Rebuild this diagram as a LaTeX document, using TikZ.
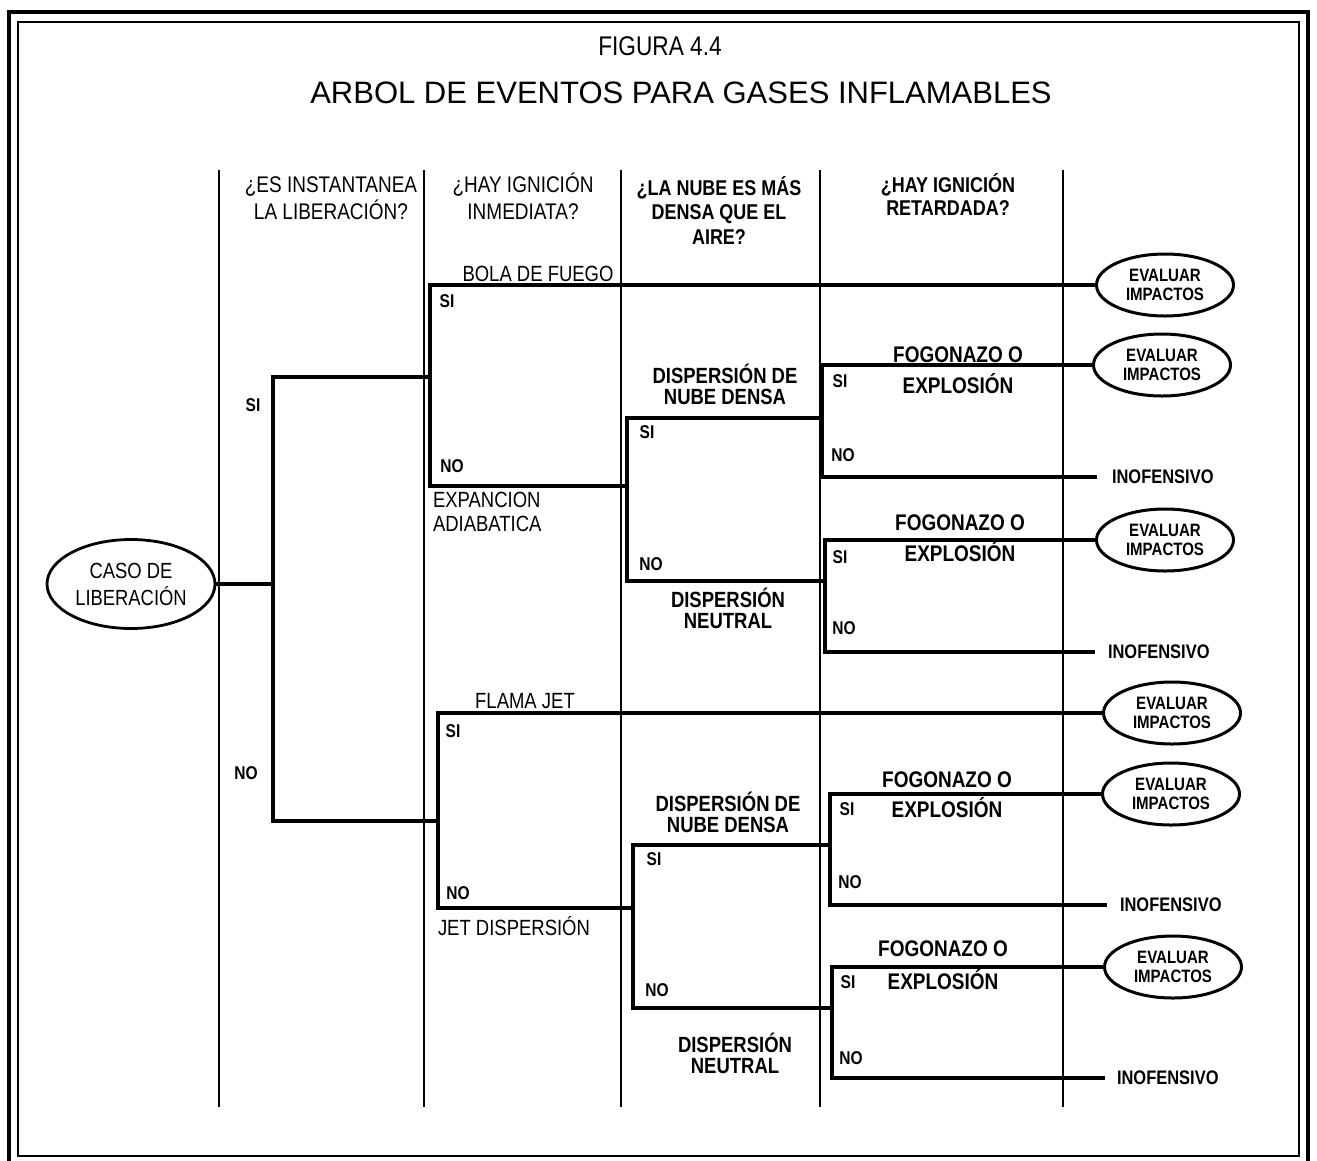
\documentclass[tikz,border=0pt]{standalone}
\usepackage{fontspec}
\setmainfont{Liberation Sans}
\newfontfamily\cond[FakeStretch=0.84]{Liberation Sans}
\usetikzlibrary{shapes.geometric}

\begin{document}
\begin{tikzpicture}[x=1pt,y=-1pt,
  every node/.style={inner sep=0pt, outer sep=0pt},
  treeline/.style={line width=3.3pt, line join=miter},
  colline/.style={line width=1.8pt},
  hdr/.style={font=\cond\fontsize{22.6}{27}\selectfont, align=center, anchor=base},
  hdrb/.style={font=\cond\bfseries\fontsize{21.4}{24.5}\selectfont, align=center, anchor=base},
  lbl/.style={font=\cond\fontsize{22}{24}\selectfont, anchor=base},
  yn/.style={font=\cond\bfseries\fontsize{18.5}{18}\selectfont, anchor=base},
  disp/.style={font=\cond\bfseries\fontsize{22}{20.5}\selectfont, align=center, anchor=base},
  fogo/.style={font=\cond\bfseries\fontsize{22.6}{31}\selectfont, align=center, anchor=base},
  inof/.style={font=\cond\bfseries\fontsize{19.6}{18}\selectfont, anchor=west},
  evalbox/.style={ellipse, draw, line width=3pt, minimum width=137pt,
    minimum height=62pt, align=center, font=\cond\bfseries\fontsize{17.9}{19}\selectfont},
  startbox/.style={ellipse, draw, line width=2.8pt, minimum width=168pt,
    minimum height=89pt, align=center, font=\cond\fontsize{21.9}{27}\selectfont},
]
\useasboundingbox (0,0) rectangle (1317,1160);

% double frame
\draw[line width=4.5pt] (9,1175) -- (9,12) -- (1308,12) -- (1308,1175);
\draw[line width=1.8pt] (18,22) rectangle (1299,1156);

% titles
\node[font=\cond\fontsize{27}{30}\selectfont, anchor=base] (fig) at (660,55) {FIGURA 4.4};
\node[font=\fontsize{31}{36}\selectfont, anchor=base] (title) at (681,103)
  {ARBOL DE EVENTOS PARA GASES INFLAMABLES};

% column separators
\foreach \cx in {219,424,621,820,1063}
  \draw[colline] (\cx,170) -- (\cx,1107);

% column questions (multi-line nodes sit on their last baseline)
\node[hdr] (h1) at (331,219) {¿ES INSTANTANEA\\LA LIBERACIÓN?};
\node[hdr] (h2) at (523,219) {¿HAY IGNICIÓN\\INMEDIATA?};
\node[hdrb] (h3) at (719,244) {¿LA NUBE ES MÁS\\DENSA QUE EL\\AIRE?};
\node[hdrb, font=\cond\bfseries\fontsize{21.4}{23}\selectfont] (h4) at (948,215.5)
  {¿HAY IGNICIÓN\\RETARDADA?};

% initiating event and outcomes
\node[startbox] (caso) at (131,584) {CASO DE\\LIBERACIÓN};
\node[evalbox] (E1) at (1165,285) {EVALUAR\\IMPACTOS};
\node[evalbox] (E2) at (1162,365) {EVALUAR\\IMPACTOS};
\node[evalbox] (E3) at (1165,540) {EVALUAR\\IMPACTOS};
\node[evalbox] (E4) at (1172,713) {EVALUAR\\IMPACTOS};
\node[evalbox] (E5) at (1171,794) {EVALUAR\\IMPACTOS};
\node[evalbox] (E6) at (1173,967) {EVALUAR\\IMPACTOS};

% branch points
\coordinate (sT) at (273,377);  \coordinate (sB) at (273,821);  \coordinate (sE) at (273,584);
\coordinate (uT) at (430,285);  \coordinate (uB) at (430,486);  \coordinate (uE) at (430,377);
\coordinate (udT) at (627,418); \coordinate (udB) at (627,581); \coordinate (udE) at (627,486);
\coordinate (faT) at (822,365); \coordinate (faB) at (822,477); \coordinate (faE) at (822,418);
\coordinate (fbT) at (825,540); \coordinate (fbB) at (825,652); \coordinate (fbE) at (825,581);
\coordinate (lT) at (438,713);  \coordinate (lB) at (438,908);  \coordinate (lE) at (438,821);
\coordinate (ldT) at (633,845); \coordinate (ldB) at (633,1008); \coordinate (ldE) at (633,908);
\coordinate (fcT) at (830,794); \coordinate (fcB) at (830,905); \coordinate (fcE) at (830,845);
\coordinate (fdT) at (832,967); \coordinate (fdB) at (832,1078); \coordinate (fdE) at (832,1008);
\coordinate (endA) at (1097,477);
\coordinate (endB) at (1095,652);
\coordinate (endC) at (1107,905);
\coordinate (endD) at (1105,1078);

% harmless outcomes
\node[inof] (inofA) at ([xshift=15pt]endA) {INOFENSIVO};
\node[inof] (inofB) at ([xshift=13pt]endB) {INOFENSIVO};
\node[inof] (inofC) at ([xshift=13pt]endC) {INOFENSIVO};
\node[inof] (inofD) at ([xshift=12pt]endD) {INOFENSIVO};

% tree branches
\draw[treeline] (caso.east) -- (sE);
\draw[treeline] (uE) -- (sT) -- (sB) -- (lE);
\draw[treeline] (E1.west) -- (uT) -- (uB) -- (udE);
\draw[treeline] (faE) -- (udT) -- (udB) -- (fbE);
\draw[treeline] (E2.west) -- (faT) -- (faB) -- (endA);
\draw[treeline] (E3.west) -- (fbT) -- (fbB) -- (endB);
\draw[treeline] (E4.west) -- (lT) -- (lB) -- (ldE);
\draw[treeline] (fcE) -- (ldT) -- (ldB) -- (fdE);
\draw[treeline] (E5.west) -- (fcT) -- (fcB) -- (endC);
\draw[treeline] (E6.west) -- (fdT) -- (fdB) -- (endD);

% branch labels
\node[yn] (s-si) at (253,411) {SI};
\node[yn] (s-no) at (246,779) {NO};

\node[lbl] (bola) at (538,281) {BOLA DE FUEGO};
\node[yn] (u-si) at (447,307) {SI};
\node[yn] (u-no) at (452,472) {NO};
\node[lbl, anchor=base west, align=left] (expa) at (433,531.5) {EXPANCION\\ADIABATICA};

\node[disp] (ud-top) at (725,404) {DISPERSIÓN DE\\NUBE DENSA};
\node[yn] (ud-si) at (647,438) {SI};
\node[yn] (ud-no) at (651,570) {NO};
\node[disp] (ud-bot) at (728,628) {DISPERSIÓN\\NEUTRAL};

\node[fogo] (fa-lbl) at (958,393) {FOGONAZO O\\EXPLOSIÓN};
\node[yn] (fa-si) at (840,387) {SI};
\node[yn] (fa-no) at (843,461) {NO};

\node[fogo] (fb-lbl) at (960,561) {FOGONAZO O\\EXPLOSIÓN};
\node[yn] (fb-si) at (840,563) {SI};
\node[yn] (fb-no) at (844,634) {NO};

\node[lbl] (flama) at (525,708.5) {FLAMA JET};
\node[yn] (l-si) at (453,737) {SI};
\node[yn] (l-no) at (458,899) {NO};
\node[lbl, anchor=base west] (jetd) at (438,935) {JET DISPERSIÓN};

\node[disp] (ld-top) at (728,832) {DISPERSIÓN DE\\NUBE DENSA};
\node[yn] (ld-si) at (654,865) {SI};
\node[yn] (ld-no) at (657,996) {NO};
\node[disp] (ld-bot) at (735,1073) {DISPERSIÓN\\NEUTRAL};

\node[fogo, font=\cond\bfseries\fontsize{22.6}{30}\selectfont] (fc-lbl) at (947,817) {FOGONAZO O\\EXPLOSIÓN};
\node[yn] (fc-si) at (847,815) {SI};
\node[yn] (fc-no) at (850,888) {NO};

\node[fogo, font=\cond\bfseries\fontsize{22.6}{33}\selectfont] (fd-lbl) at (943,989) {FOGONAZO O\\EXPLOSIÓN};
\node[yn] (fd-si) at (848,988) {SI};
\node[yn] (fd-no) at (851,1064) {NO};
\end{tikzpicture}
\end{document}
